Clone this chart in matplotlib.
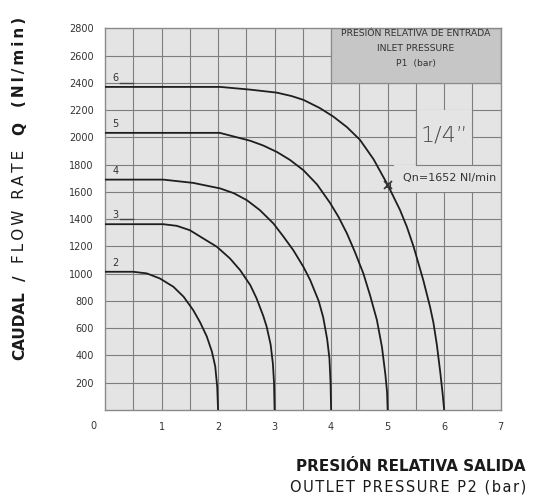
import matplotlib
matplotlib.use("Agg")
import matplotlib.pyplot as plt
from matplotlib.patches import Rectangle

# Outlet pressure P2 (bar) and flow rate Q (Nl/min) for each inlet pressure P1
p1_levels = [2, 3, 4, 5, 6]

p2_at_p1_2 = [0.0, 0.5, 0.74, 0.97, 1.21, 1.39, 1.56, 1.68, 1.80, 1.89, 1.95, 1.985, 2.0]
q_at_p1_2 = [1014, 1014, 1002, 965, 904, 831, 733, 645, 540, 430, 320, 170, 0]

p2_at_p1_3 = [0.0, 1.03, 1.27, 1.50, 1.74, 1.98, 2.21, 2.39, 2.57, 2.68, 2.80, 2.86, 2.93, 2.97, 2.99, 3.0]
q_at_p1_3 = [1363, 1363, 1351, 1319, 1258, 1197, 1112, 1026, 916, 820, 690, 611, 480, 340, 200, 0]

p2_at_p1_4 = [0.0, 1.03, 1.56, 2.04, 2.28, 2.51, 2.74, 2.98, 3.16, 3.33, 3.51, 3.63, 3.78, 3.86, 3.93, 3.97, 3.99, 4.0]
q_at_p1_4 = [1690, 1690, 1666, 1625, 1590, 1539, 1466, 1368, 1270, 1173, 1050, 953, 800, 680, 520, 380, 200, 0]

p2_at_p1_5 = [0.0, 2.03, 2.57, 2.80, 3.04, 3.27, 3.51, 3.75, 3.98, 4.13, 4.28, 4.42, 4.57, 4.69, 4.81, 4.90, 4.96, 4.99, 5.0]
q_at_p1_5 = [2033, 2033, 1975, 1940, 1893, 1835, 1759, 1655, 1520, 1417, 1295, 1160, 1002, 840, 660, 460, 260, 130, 0]

p2_at_p1_6 = [0.0, 2.04, 2.57, 3.04, 3.30, 3.51, 3.80, 4.04, 4.28, 4.51, 4.75, 5.0, 5.22, 5.34, 5.46, 5.63, 5.75, 5.81, 5.87, 5.93, 5.97, 6.0]
q_at_p1_6 = [2370, 2370, 2350, 2328, 2303, 2275, 2215, 2152, 2075, 1982, 1840, 1652, 1466, 1344, 1197, 953, 757, 640, 480, 280, 130, 0]

# Nominal flow point
qn_p2 = 5.0
qn_flow = 1652

x_ticks = [1, 2, 3, 4, 5, 6, 7]
y_ticks = [200, 400, 600, 800, 1000, 1200, 1400, 1600, 1800, 2000, 2200, 2400, 2600, 2800]

curves = [
    (p2_at_p1_2, q_at_p1_2),
    (p2_at_p1_3, q_at_p1_3),
    (p2_at_p1_4, q_at_p1_4),
    (p2_at_p1_5, q_at_p1_5),
    (p2_at_p1_6, q_at_p1_6),
]

W, H = 537, 499
fig = plt.figure(figsize=(W / 100, H / 100), dpi=100)
ax = fig.add_axes([105 / W, 1 - 410 / H, (500.7 - 105) / W, (410 - 28.3) / H])

bg = "#e4e4e4"
grid_c = "#7e7e7e"
grid_lw = 0.8
ax.set_facecolor(bg)
ax.set_xlim(0, 7)
ax.set_ylim(0, 2800)

# Grid every 0.5 bar and every 200 Nl/min
for gx in [i * 0.5 for i in range(1, 14)]:
    ax.axvline(gx, color=grid_c, lw=grid_lw, zorder=1)
for gy in range(200, 2800, 200):
    ax.axhline(gy, color=grid_c, lw=grid_lw, zorder=1)

for s in ax.spines.values():
    s.set_color("#8a8a8a")
    s.set_linewidth(1.0)

# Label panels that hide the grid behind them
ax.add_patch(Rectangle((4.0, 2400), 3.0, 400, facecolor="#c6c6c6",
                       edgecolor="#8a8a8a", lw=0.9, zorder=2))
ax.add_patch(Rectangle((5.5, 1800), 1.0, 400, facecolor=bg,
                       edgecolor="none", zorder=2))
ax.add_patch(Rectangle((5.12, 1600), 1.88, 200, facecolor=bg,
                       edgecolor="none", zorder=2))
ax.plot([5.5, 5.5], [1800, 2200], color=grid_c, lw=grid_lw, zorder=2.1)
ax.plot([6.5, 6.5], [2000, 2200], color=grid_c, lw=grid_lw, zorder=2.1)
ax.plot([5.5, 7.0], [1800, 1800], color=grid_c, lw=grid_lw, zorder=2.1)

ax.text(5.5, 2762, "PRESIÓN RELATIVA DE ENTRADA", ha="center", va="center",
        fontsize=6.7, color="#333333", zorder=3)
ax.text(5.5, 2655, "INLET PRESSURE", ha="center", va="center",
        fontsize=6.7, color="#333333", zorder=3)
ax.text(5.5, 2545, "P1  (bar)", ha="center", va="center",
        fontsize=6.7, color="#333333", zorder=3)

ax.text(6.0, 2010, "1/4\u201d", ha="center", va="center", fontsize=16,
        fontweight="light", color="#4a4a4a", zorder=3)
ax.text(5.27, 1700, "Qn=1652 Nl/min", ha="left", va="center", fontsize=8,
        color="#333333", zorder=3)

# Flow curves with their inlet pressure labels
for p1, (xs, ys) in zip(p1_levels, curves):
    ax.plot(xs, ys, color="#1e1e1e", lw=1.3, zorder=4,
            solid_joinstyle="round", solid_capstyle="butt")
    ax.text(0.13, ys[0] + 28, str(p1), ha="left", va="bottom", fontsize=7,
            color="#333333", zorder=4)
# leader strokes beside the labels that sit on a grid line
for p1, gy in [(6, 2400), (3, 1400)]:
    ax.plot([0.27, 0.5], [gy, gy], color="#444444", lw=1.0, zorder=3)

ax.plot(qn_p2, qn_flow, marker="x", ms=5.5, mew=1.2, color="#333333", zorder=5)
ax.plot(qn_p2, qn_flow, marker="s", ms=3.5, mfc="none", mew=0.8, color="#333333", zorder=5)

# Ticks
ax.set_xticks(x_ticks)
ax.set_yticks(y_ticks)
ax.set_xticklabels([str(v) for v in x_ticks])
ax.set_yticklabels([str(v) for v in y_ticks])
ax.tick_params(length=0, labelsize=7, labelcolor="#333333", pad=9)
ax.tick_params(axis="y", pad=8)
ax.text(-0.2, -80, "0", ha="center", va="top", fontsize=7, color="#333333",
        clip_on=False)

HAIR = "\u200a"


def spaced(s, sep=HAIR):
    return sep.join(list(s))


# Axis titles
fig.text(525 / W, 1 - 466.7 / H, "PRESIÓN RELATIVA SALIDA", ha="right",
         va="center", fontsize=11, fontweight="bold", color="#1a1a1a")
fig.text(526 / W, 1 - 487 / H, spaced("OUTLET PRESSURE P2 (bar)"), ha="right",
         va="center", fontsize=10.5, color="#1a1a1a")

# Vertical title built from pieces of different weight
pieces = [
    ("CAUDAL", "bold", 326),
    ("/", "bold", 278),
    (spaced("FLOW RATE", HAIR * 2), "normal", 206),
    ("Q", "bold", 129),
    (spaced("(Nl/min)", HAIR * 2), "bold", 62),
]
for txt, wt, yc in pieces:
    fig.text(20 / W, 1 - yc / H, txt, rotation=90, ha="center", va="center",
             fontsize=11, fontweight=wt, color="#1a1a1a")

fig.savefig("out.png", dpi=100)
